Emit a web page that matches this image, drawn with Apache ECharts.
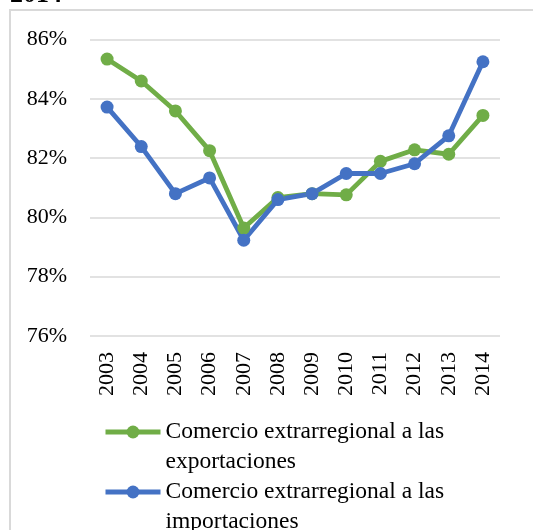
<!DOCTYPE html>
<html>
<head>
<meta charset="utf-8">
<script src="https://cdn.jsdelivr.net/npm/echarts@6/dist/echarts.min.js"></script>
<style>
  html, body { margin: 0; padding: 0; background: #fff; }
  #chart { width: 533px; height: 530px; }
</style>
</head>
<body>
<div id="chart"></div>
<script>
// Years on the category axis
const years = ['2003', '2004', '2005', '2006', '2007', '2008', '2009', '2010', '2011', '2012', '2013', '2014'];

// Extra-regional share of trade, in percent
const exportShare = [85.34, 84.60, 83.59, 82.25, 79.64, 80.67, 80.80, 80.76, 81.89, 82.28, 82.13, 83.44];
const importShare = [83.72, 82.39, 80.80, 81.33, 79.23, 80.60, 80.80, 81.48, 81.48, 81.81, 82.75, 85.25];

const seriesNames = [
  'Comercio extrarregional a las exportaciones',
  'Comercio extrarregional a las importaciones'
];

// Value axis range and tick step
const yMin = 76, yMax = 86, yStep = 2;

const serif = '"Liberation Serif", "Times New Roman", serif';

const chart = echarts.init(document.getElementById('chart'), null, { renderer: 'canvas' });

function lineSeries(name, data, color) {
  return {
    name: name,
    type: 'line',
    data: data,
    symbol: 'circle',
    symbolSize: 13,
    color: color,
    lineStyle: { color: color, width: 4.8 },
    itemStyle: { color: color },
    emphasis: { disabled: true },
    animation: false
  };
}

// Legend labels wrap after "a las"; the first line sits beside the icon
function legendLabel(name) {
  const cut = name.indexOf(' a las ') + ' a las'.length;
  return '{t|' + name.slice(0, cut) + '}\n{t|' + name.slice(cut + 1) + '}';
}

chart.setOption({
  animation: false,
  graphic: [
    {
      type: 'text',
      left: 10,
      top: -18,
      style: { text: '2014', font: 'bold 26px ' + serif, fill: '#000' }
    },
    {
      type: 'rect',
      shape: { x: 10, y: 10, width: 560, height: 560 },
      style: { fill: 'none', stroke: '#d9d9d9', lineWidth: 2 },
      silent: true
    }
  ],
  grid: { left: 90, right: 33, top: 39.5, bottom: 194, containLabel: false },
  xAxis: {
    type: 'category',
    data: years,
    boundaryGap: true,
    axisLine: { show: false },
    axisTick: { show: false },
    axisLabel: {
      rotate: 90,
      margin: 16,
      color: '#000',
      fontFamily: serif,
      fontSize: 22
    },
    splitLine: { show: false }
  },
  yAxis: {
    type: 'value',
    min: yMin,
    max: yMax,
    interval: yStep,
    axisLine: { show: false },
    axisTick: { show: false },
    axisLabel: {
      formatter: '{value}%',
      margin: 23,
      color: '#000',
      fontFamily: serif,
      fontSize: 22
    },
    splitLine: { lineStyle: { color: '#d9d9d9', width: 1.5 } }
  },
  legend: {
    orient: 'vertical',
    left: 103,
    top: 387,
    height: 300,
    padding: 0,
    itemWidth: 55,
    itemHeight: 16,
    itemGap: -30,
    data: seriesNames,
    formatter: legendLabel,
    lineStyle: { width: 5 },
    textStyle: {
      color: '#000',
      fontFamily: serif,
      fontSize: 23.5,
      lineHeight: 30,
      padding: [30, 0, 0, 0],
      rich: {
        t: { color: '#000', fontFamily: serif, fontSize: 23.5, lineHeight: 30 }
      }
    }
  },
  series: [
    lineSeries(seriesNames[0], exportShare, '#70ad47'),
    lineSeries(seriesNames[1], importShare, '#4472c4')
  ]
});
</script>
</body>
</html>
